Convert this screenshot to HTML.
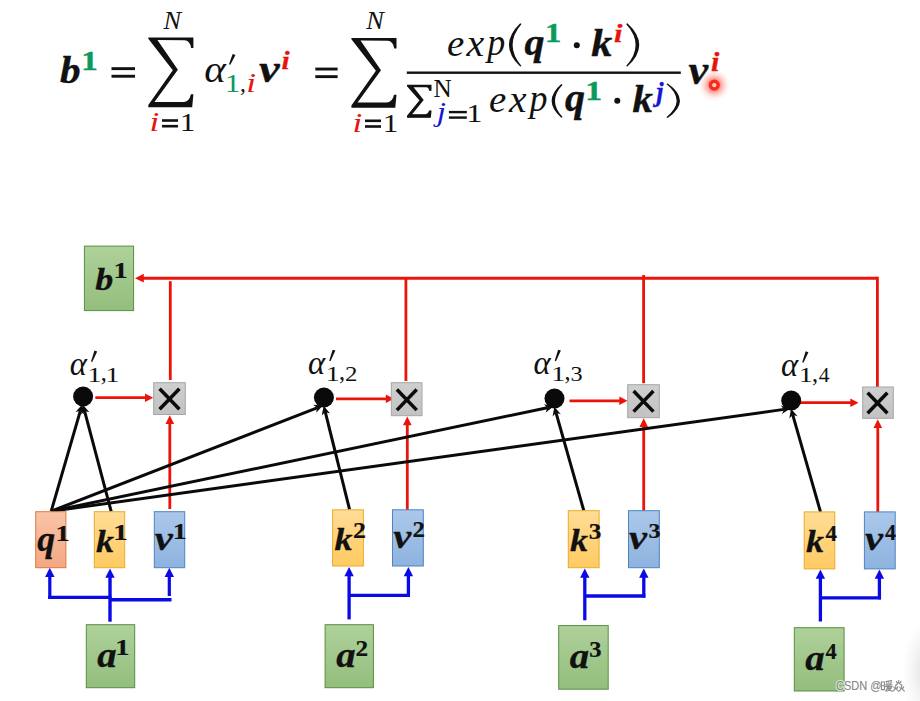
<!DOCTYPE html>
<html><head><meta charset="utf-8"><title>self-attention</title>
<style>
html,body{margin:0;padding:0;background:#fff;}
body{width:920px;height:701px;overflow:hidden;font-family:"Liberation Serif",serif;}
svg{display:block;}
text{font-family:"Liberation Serif",serif;}
.bi{font-weight:bold;font-style:italic;}
.b{font-weight:bold;}
.i{font-style:italic;}
.sans{font-family:"Liberation Sans",sans-serif;}
</style></head><body>
<svg width="920" height="701" viewBox="0 0 920 701" fill="#111">
<defs>
<linearGradient id="gG" x1="0" y1="0" x2="0" y2="1"><stop offset="0" stop-color="#afd19b"/><stop offset="1" stop-color="#93be7d"/></linearGradient>
<linearGradient id="gO" x1="0" y1="0" x2="0" y2="1"><stop offset="0" stop-color="#f9c4a6"/><stop offset="1" stop-color="#f4a783"/></linearGradient>
<linearGradient id="gY" x1="0" y1="0" x2="0" y2="1"><stop offset="0" stop-color="#ffdc96"/><stop offset="1" stop-color="#ffcb62"/></linearGradient>
<linearGradient id="gB" x1="0" y1="0" x2="0" y2="1"><stop offset="0" stop-color="#abc8ea"/><stop offset="1" stop-color="#8db3df"/></linearGradient>
<linearGradient id="gX" x1="0" y1="0" x2="0" y2="1"><stop offset="0" stop-color="#cfcfcf"/><stop offset="1" stop-color="#c2c2c2"/></linearGradient>
<radialGradient id="glow" cx="0.5" cy="0.5" r="0.5"><stop offset="0" stop-color="#ff3020" stop-opacity="0.7"/><stop offset="0.34" stop-color="#ff3a2a" stop-opacity="0.55"/><stop offset="0.6" stop-color="#ff5040" stop-opacity="0.24"/><stop offset="0.82" stop-color="#ff6a5a" stop-opacity="0.07"/><stop offset="1" stop-color="#ff6a5a" stop-opacity="0"/></radialGradient>
<radialGradient id="shade" cx="0.5" cy="0.5" r="0.5"><stop offset="0" stop-color="#d8d8d8" stop-opacity="0.9"/><stop offset="1" stop-color="#e8e8e8" stop-opacity="0"/></radialGradient>
</defs>
<rect width="920" height="701" fill="#ffffff"/>
<ellipse cx="928" cy="672" rx="26" ry="52" fill="url(#shade)"/>
<line x1="877.40" y1="278.20" x2="142.80" y2="278.20" stroke="#ec1409" stroke-width="3.1"/>
<polygon points="135.00,278.20 143.80,273.85 143.80,282.55" fill="#ec1409"/>
<line x1="170.3" y1="281.2" x2="170.3" y2="380" stroke="#ec1409" stroke-width="2.8"/>
<line x1="405.9" y1="277" x2="405.9" y2="381" stroke="#ec1409" stroke-width="2.8"/>
<line x1="643.6" y1="275" x2="643.6" y2="383.2" stroke="#ec1409" stroke-width="2.8"/>
<line x1="877.4" y1="276.7" x2="877.4" y2="387.5" stroke="#ec1409" stroke-width="2.8"/>
<line x1="169.80" y1="509.00" x2="169.80" y2="423.00" stroke="#ec1409" stroke-width="2.8"/>
<polygon points="169.80,415.20 174.10,424.00 165.50,424.00" fill="#ec1409"/>
<line x1="407.30" y1="510.00" x2="407.30" y2="424.30" stroke="#ec1409" stroke-width="2.8"/>
<polygon points="407.30,416.50 411.60,425.30 403.00,425.30" fill="#ec1409"/>
<line x1="643.70" y1="511.00" x2="643.70" y2="426.00" stroke="#ec1409" stroke-width="2.8"/>
<polygon points="643.70,418.20 648.00,427.00 639.40,427.00" fill="#ec1409"/>
<line x1="877.80" y1="512.20" x2="877.80" y2="427.00" stroke="#ec1409" stroke-width="2.8"/>
<polygon points="877.80,419.20 882.10,428.00 873.50,428.00" fill="#ec1409"/>
<line x1="95.30" y1="397.70" x2="146.00" y2="397.70" stroke="#ec1409" stroke-width="2.8"/>
<polygon points="153.20,397.70 145.00,402.00 145.00,393.40" fill="#ec1409"/>
<line x1="336.00" y1="398.80" x2="386.80" y2="398.80" stroke="#ec1409" stroke-width="2.8"/>
<polygon points="394.00,398.80 385.80,403.10 385.80,394.50" fill="#ec1409"/>
<line x1="569.50" y1="400.80" x2="620.30" y2="400.80" stroke="#ec1409" stroke-width="2.8"/>
<polygon points="627.50,400.80 619.30,405.10 619.30,396.50" fill="#ec1409"/>
<line x1="800.00" y1="402.70" x2="851.30" y2="402.70" stroke="#ec1409" stroke-width="2.8"/>
<polygon points="858.50,402.70 850.30,407.00 850.30,398.40" fill="#ec1409"/>
<line x1="51.20" y1="511.20" x2="80.41" y2="410.65" stroke="#0a0a0a" stroke-width="3.0"/>
<polygon points="82.20,404.50 83.82,414.34 80.41,410.65 75.56,411.94" fill="#0a0a0a"/>
<line x1="111.20" y1="511.50" x2="84.54" y2="410.89" stroke="#0a0a0a" stroke-width="3.0"/>
<polygon points="82.90,404.70 89.36,412.30 84.54,410.89 81.05,414.50" fill="#0a0a0a"/>
<line x1="51.20" y1="511.20" x2="317.04" y2="407.82" stroke="#0a0a0a" stroke-width="3.0"/>
<polygon points="323.00,405.50 316.17,412.77 317.04,407.82 313.05,404.75" fill="#0a0a0a"/>
<line x1="349.60" y1="509.60" x2="325.25" y2="411.91" stroke="#0a0a0a" stroke-width="3.0"/>
<polygon points="323.70,405.70 330.05,413.39 325.25,411.91 321.70,415.47" fill="#0a0a0a"/>
<line x1="51.20" y1="511.20" x2="547.33" y2="407.81" stroke="#0a0a0a" stroke-width="3.0"/>
<polygon points="553.60,406.50 545.67,412.55 547.33,407.81 543.91,404.13" fill="#0a0a0a"/>
<line x1="583.80" y1="510.60" x2="556.05" y2="412.86" stroke="#0a0a0a" stroke-width="3.0"/>
<polygon points="554.30,406.70 560.89,414.18 556.05,412.86 552.62,416.53" fill="#0a0a0a"/>
<line x1="51.20" y1="511.20" x2="783.96" y2="409.38" stroke="#0a0a0a" stroke-width="3.0"/>
<polygon points="790.30,408.50 781.98,414.00 783.96,409.38 780.79,405.48" fill="#0a0a0a"/>
<line x1="820.50" y1="511.90" x2="792.76" y2="414.85" stroke="#0a0a0a" stroke-width="3.0"/>
<polygon points="791.00,408.70 797.61,416.17 792.76,414.85 789.34,418.54" fill="#0a0a0a"/>
<circle cx="83.1" cy="396.5" r="10" fill="#0a0a0a"/>
<circle cx="323.9" cy="397.5" r="10" fill="#0a0a0a"/>
<circle cx="554.5" cy="398.5" r="10" fill="#0a0a0a"/>
<circle cx="791.2" cy="400.5" r="10" fill="#0a0a0a"/>
<rect x="153.7" y="382.7" width="31.6" height="31.8" fill="url(#gX)" stroke="#a6a6a6" stroke-width="1"/>
<path d="M159.60,388.70 L179.40,409.30 M179.40,388.70 L159.60,409.30" stroke="#0a0a0a" stroke-width="3.5" stroke-linecap="butt" fill="none"/>
<rect x="391.3" y="382.7" width="30.7" height="33" fill="url(#gX)" stroke="#a6a6a6" stroke-width="1"/>
<path d="M396.90,389.50 L416.70,410.10 M416.70,389.50 L396.90,410.10" stroke="#0a0a0a" stroke-width="3.5" stroke-linecap="butt" fill="none"/>
<rect x="627.7" y="384.7" width="31.6" height="33" fill="url(#gX)" stroke="#a6a6a6" stroke-width="1"/>
<path d="M633.60,391.00 L653.40,411.60 M653.40,391.00 L633.60,411.60" stroke="#0a0a0a" stroke-width="3.5" stroke-linecap="butt" fill="none"/>
<rect x="862.7" y="387" width="30.6" height="31.3" fill="url(#gX)" stroke="#a6a6a6" stroke-width="1"/>
<path d="M867.60,392.70 L887.40,413.30 M887.40,392.70 L867.60,413.30" stroke="#0a0a0a" stroke-width="3.5" stroke-linecap="butt" fill="none"/>
<line x1="110.00" y1="621.70" x2="110.00" y2="576.70" stroke="#0a0ae6" stroke-width="3.4"/>
<polygon points="110.00,568.50 114.70,577.70 105.30,577.70" fill="#0a0ae6"/>
<line x1="49.80" y1="598.90" x2="49.80" y2="576.00" stroke="#0a0ae6" stroke-width="3.2"/>
<polygon points="49.80,567.80 54.50,577.00 45.10,577.00" fill="#0a0ae6"/>
<line x1="48.2" y1="597.4" x2="111.5" y2="597.4" stroke="#0a0ae6" stroke-width="3.4"/>
<line x1="169.30" y1="596.00" x2="169.30" y2="576.00" stroke="#0a0ae6" stroke-width="3.2"/>
<polygon points="169.30,567.80 174.00,577.00 164.60,577.00" fill="#0a0ae6"/>
<line x1="110" y1="599.7" x2="171.5" y2="599.7" stroke="#0a0ae6" stroke-width="3.4"/>
<line x1="349.10" y1="619.40" x2="349.10" y2="575.20" stroke="#0a0ae6" stroke-width="3.3"/>
<polygon points="349.10,567.00 353.80,576.20 344.40,576.20" fill="#0a0ae6"/>
<line x1="408.40" y1="597.00" x2="408.40" y2="575.20" stroke="#0a0ae6" stroke-width="3.3"/>
<polygon points="408.40,567.00 413.10,576.20 403.70,576.20" fill="#0a0ae6"/>
<line x1="349.1" y1="595.4" x2="410.0" y2="595.4" stroke="#0a0ae6" stroke-width="3.3"/>
<line x1="584.80" y1="620.30" x2="584.80" y2="576.70" stroke="#0a0ae6" stroke-width="3.3"/>
<polygon points="584.80,568.50 589.50,577.70 580.10,577.70" fill="#0a0ae6"/>
<line x1="643.80" y1="597.60" x2="643.80" y2="576.70" stroke="#0a0ae6" stroke-width="3.3"/>
<polygon points="643.80,568.50 648.50,577.70 639.10,577.70" fill="#0a0ae6"/>
<line x1="584.8" y1="596" x2="645.4" y2="596" stroke="#0a0ae6" stroke-width="3.3"/>
<line x1="820.40" y1="621.50" x2="820.40" y2="577.70" stroke="#0a0ae6" stroke-width="3.3"/>
<polygon points="820.40,569.50 825.10,578.70 815.70,578.70" fill="#0a0ae6"/>
<line x1="879.40" y1="599.40" x2="879.40" y2="577.70" stroke="#0a0ae6" stroke-width="3.3"/>
<polygon points="879.40,569.50 884.10,578.70 874.70,578.70" fill="#0a0ae6"/>
<line x1="820.4" y1="597.8" x2="881.0" y2="597.8" stroke="#0a0ae6" stroke-width="3.3"/>
<rect x="84.4" y="246.1" width="49.2" height="64.5" fill="url(#gG)" stroke="#578f3f" stroke-width="1"/>
<rect x="35.7" y="511.7" width="30.2" height="56" fill="url(#gO)" stroke="#dc7a40" stroke-width="1"/>
<rect x="94.3" y="511.7" width="30.4" height="56" fill="url(#gY)" stroke="#eaab28" stroke-width="1"/>
<rect x="154.3" y="511.7" width="30.4" height="56" fill="url(#gB)" stroke="#4d84c2" stroke-width="1"/>
<rect x="86.3" y="624.7" width="48.4" height="63" fill="url(#gG)" stroke="#578f3f" stroke-width="1"/>
<rect x="332.6" y="509.8" width="30.8" height="56.2" fill="url(#gY)" stroke="#eaab28" stroke-width="1"/>
<rect x="392.5" y="509.8" width="30.8" height="56.2" fill="url(#gB)" stroke="#4d84c2" stroke-width="1"/>
<rect x="325.1" y="624.7" width="48.3" height="63" fill="url(#gG)" stroke="#578f3f" stroke-width="1"/>
<rect x="568.3" y="510.7" width="30.8" height="57" fill="url(#gY)" stroke="#eaab28" stroke-width="1"/>
<rect x="628.5" y="510.7" width="30.8" height="57" fill="url(#gB)" stroke="#4d84c2" stroke-width="1"/>
<rect x="558.7" y="625.6" width="49.5" height="63.6" fill="url(#gG)" stroke="#578f3f" stroke-width="1"/>
<rect x="804.2" y="511.9" width="30.6" height="57" fill="url(#gY)" stroke="#eaab28" stroke-width="1"/>
<rect x="864.4" y="511.9" width="30.8" height="57" fill="url(#gB)" stroke="#4d84c2" stroke-width="1"/>
<rect x="794.3" y="627.7" width="49.8" height="63.3" fill="url(#gG)" stroke="#578f3f" stroke-width="1"/>
<text class="bi" transform="matrix(1.1067 0 0 1 95.22 289.63)" font-size="32.62" stroke="#111" stroke-width="0.3">b</text>
<text class="b" transform="matrix(1.2387 0 0 1 113.42 278.00)" font-size="23.02" stroke="#111" stroke-width="0.2">1</text>
<text class="bi" transform="matrix(1.0182 0 0 1 37.25 550.53)" font-size="35.08" stroke="#111" stroke-width="0.3">q</text>
<text class="b" transform="matrix(1.2147 0 0 1 55.42 540.50)" font-size="23.48" stroke="#111" stroke-width="0.2">1</text>
<text class="bi" transform="matrix(1.1336 0 0 1 95.91 551.90)" font-size="31.71" stroke="#111" stroke-width="0.3">k</text>
<text class="b" transform="matrix(1.2997 0 0 1 113.25 540.10)" font-size="22.57" stroke="#111" stroke-width="0.2">1</text>
<text class="bi" transform="matrix(1.1907 0 0 1 154.72 549.77)" font-size="34.10" stroke="#111" stroke-width="0.3">v</text>
<text class="b" transform="matrix(1.2564 0 0 1 172.86 539.10)" font-size="22.27" stroke="#111" stroke-width="0.2">1</text>
<text class="bi" transform="matrix(1.0967 0 0 1 97.15 666.84)" font-size="35.35" stroke="#111" stroke-width="0.3">a</text>
<text class="b" transform="matrix(1.2387 0 0 1 115.32 655.40)" font-size="23.02" stroke="#111" stroke-width="0.2">1</text>
<text class="bi" transform="matrix(1.1336 0 0 1 334.41 550.00)" font-size="31.71" stroke="#111" stroke-width="0.3">k</text>
<text class="b" transform="matrix(1.1563 0 0 1 353.01 538.20)" font-size="22.50" stroke="#111" stroke-width="0.2">2</text>
<text class="bi" transform="matrix(1.1907 0 0 1 393.22 547.97)" font-size="34.10" stroke="#111" stroke-width="0.3">v</text>
<text class="b" transform="matrix(1.1178 0 0 1 412.56 537.30)" font-size="22.20" stroke="#111" stroke-width="0.2">2</text>
<text class="bi" transform="matrix(1.0967 0 0 1 336.15 667.04)" font-size="35.35" stroke="#111" stroke-width="0.3">a</text>
<text class="b" transform="matrix(1.1020 0 0 1 355.54 655.60)" font-size="22.96" stroke="#111" stroke-width="0.2">2</text>
<text class="bi" transform="matrix(1.1336 0 0 1 570.11 551.00)" font-size="31.71" stroke="#111" stroke-width="0.3">k</text>
<text class="b" transform="matrix(1.1373 0 0 1 588.85 538.98)" font-size="22.18" stroke="#111" stroke-width="0.2">3</text>
<text class="bi" transform="matrix(1.1907 0 0 1 629.12 548.97)" font-size="34.10" stroke="#111" stroke-width="0.3">v</text>
<text class="b" transform="matrix(1.0994 0 0 1 648.60 538.09)" font-size="21.88" stroke="#111" stroke-width="0.2">3</text>
<text class="bi" transform="matrix(1.0967 0 0 1 569.75 668.24)" font-size="35.35" stroke="#111" stroke-width="0.3">a</text>
<text class="b" transform="matrix(1.0838 0 0 1 589.28 656.58)" font-size="22.62" stroke="#111" stroke-width="0.2">3</text>
<text class="bi" transform="matrix(1.1336 0 0 1 806.01 552.30)" font-size="31.71" stroke="#111" stroke-width="0.3">k</text>
<text class="b" transform="matrix(1.0199 0 0 1 825.38 540.50)" font-size="22.64" stroke="#111" stroke-width="0.2">4</text>
<text class="bi" transform="matrix(1.1907 0 0 1 865.02 550.27)" font-size="34.10" stroke="#111" stroke-width="0.3">v</text>
<text class="b" transform="matrix(0.9859 0 0 1 885.10 539.60)" font-size="22.33" stroke="#111" stroke-width="0.2">4</text>
<text class="bi" transform="matrix(1.0967 0 0 1 805.35 670.34)" font-size="35.35" stroke="#111" stroke-width="0.3">a</text>
<text class="b" transform="matrix(0.9720 0 0 1 825.49 658.90)" font-size="23.09" stroke="#111" stroke-width="0.2">4</text>
<text class="i" transform="matrix(0.9649 0 0 1 69.83 374.95)" font-size="33.82">α</text>
<polygon points="94.47,350.50 97.20,351.40 92.24,362.00 91.00,361.50"/>
<text transform="matrix(1.3500 0 0 1 87.61 381.50)" font-size="20.75">1</text>
<text transform="matrix(1.0014 0 0 1 100.78 380.99)" font-size="24.14">,</text>
<text transform="matrix(1.3500 0 0 1 105.61 381.50)" font-size="20.75">1</text>
<text class="i" transform="matrix(0.9649 0 0 1 308.03 374.15)" font-size="33.82">α</text>
<polygon points="332.67,349.70 335.40,350.60 330.44,361.20 329.20,360.70"/>
<text transform="matrix(1.3500 0 0 1 325.81 380.70)" font-size="20.75">1</text>
<text transform="matrix(1.0014 0 0 1 338.98 380.19)" font-size="24.14">,</text>
<text transform="matrix(1.2056 0 0 1 345.10 380.70)" font-size="20.69">2</text>
<text class="i" transform="matrix(0.9649 0 0 1 533.53 374.15)" font-size="33.82">α</text>
<polygon points="558.17,349.70 560.90,350.60 555.94,361.20 554.70,360.70"/>
<text transform="matrix(1.3500 0 0 1 551.31 380.70)" font-size="20.75">1</text>
<text transform="matrix(1.0014 0 0 1 564.48 380.19)" font-size="24.14">,</text>
<text transform="matrix(1.1872 0 0 1 570.54 380.50)" font-size="20.39">3</text>
<text class="i" transform="matrix(0.9649 0 0 1 781.03 375.75)" font-size="33.82">α</text>
<polygon points="805.67,351.30 808.40,352.20 803.44,362.80 802.20,362.30"/>
<text transform="matrix(1.3500 0 0 1 798.81 382.30)" font-size="20.75">1</text>
<text transform="matrix(1.0014 0 0 1 811.98 381.79)" font-size="24.14">,</text>
<text transform="matrix(1.0336 0 0 1 818.78 382.30)" font-size="20.81">4</text>
<text class="bi" transform="matrix(1.1070 0 0 1 60.06 82.68)" font-size="37.16" stroke="#111" stroke-width="0.4">b</text>
<text class="b" transform="matrix(1.1761 0 0 1 81.15 69.60)" font-size="28.18" fill="#0a9a5c" stroke="#0a9a5c" stroke-width="0.4">1</text>
<rect x="111.5" y="67.2" width="23.5" height="2.9"/><rect x="111.5" y="74.8" width="23.5" height="2.9"/>
<path d="M148.30,37.40 L193.40,37.40 L193.40,48.01 L191.10,48.01 Q190.24,40.54 184.38,40.19 L157.41,39.98 L177.89,69.65 L154.48,102.10 L183.48,102.10 Q189.34,101.62 190.92,94.15 L193.40,94.15 L192.18,107.20 L148.30,107.20 L148.30,104.90 L172.79,70.28 L148.30,38.87 Z" fill="#111"/>
<text class="i" transform="matrix(1.0526 0 0 1 163.49 28.70)" font-size="25.05">N</text>
<text class="i" transform="matrix(1.3000 0 0 1 149.39 131.20)" font-size="27.19" fill="#e8140c">i</text>
<rect x="162" y="119.2" width="16" height="2.6"/><rect x="162" y="124.9" width="16" height="2.6"/>
<text transform="matrix(1.2501 0 0 1 179.75 131.20)" font-size="24.99">1</text>
<text class="i" transform="matrix(1.0867 0 0 1 204.28 82.31)" font-size="37.76">α</text>
<polygon points="232.64,54.00 235.50,54.90 230.30,64.80 229.00,64.30"/>
<text transform="matrix(1.2892 0 0 1 224.75 91.50)" font-size="24.24" fill="#0a9a5c">1</text>
<text transform="matrix(1.0060 0 0 1 240.10 91.41)" font-size="23.36">,</text>
<text class="i" transform="matrix(1.3000 0 0 1 246.14 91.50)" font-size="27.19" fill="#e8140c">i</text>
<text class="bi" transform="matrix(1.2189 0 0 1 259.07 82.43)" font-size="37.93" stroke="#111" stroke-width="0.4">v</text>
<text class="bi" transform="matrix(1.1537 0 0 1 281.45 68.70)" font-size="25.51" fill="#e8140c" stroke="#e8140c" stroke-width="0.3">i</text>
<rect x="315.3" y="67.6" width="22.30000000000001" height="2.9"/><rect x="315.3" y="75.2" width="22.30000000000001" height="2.9"/>
<path d="M351.40,37.90 L396.50,37.90 L396.50,48.51 L394.20,48.51 Q393.34,41.04 387.48,40.69 L360.51,40.48 L380.99,70.15 L357.58,102.60 L386.58,102.60 Q392.44,102.12 394.02,94.65 L396.50,94.65 L395.28,107.70 L351.40,107.70 L351.40,105.40 L375.89,70.78 L351.40,39.37 Z" fill="#111"/>
<text class="i" transform="matrix(1.0526 0 0 1 366.19 28.70)" font-size="25.05">N</text>
<text class="i" transform="matrix(1.3000 0 0 1 352.39 131.50)" font-size="27.19" fill="#e8140c">i</text>
<rect x="365" y="119.5" width="16" height="2.6"/><rect x="365" y="125.2" width="16" height="2.6"/>
<text transform="matrix(1.2501 0 0 1 382.75 131.50)" font-size="24.99">1</text>
<rect x="406.8" y="71.5" width="274" height="2.4" fill="#111"/>
<text class="i" transform="matrix(1.0283 0 0 1 447.00 55.63)" font-size="37.84">e</text>
<text class="i" transform="matrix(1.0286 0 0 1 466.59 55.80)" font-size="38.78">x</text>
<text class="i" transform="matrix(0.9499 0 0 1 487.21 55.34)" font-size="37.86">p</text>
<path d="M520.20,23.20 Q497.70,44.90 520.20,66.60 L521.50,65.90 Q503.70,44.90 521.50,23.90 Z"/>
<text class="bi" transform="matrix(1.0339 0 0 1 524.39 55.15)" font-size="38.74" stroke="#111" stroke-width="0.4">q</text>
<text class="b" transform="matrix(1.2366 0 0 1 545.09 41.60)" font-size="26.36" fill="#0a9a5c" stroke="#0a9a5c" stroke-width="0.4">1</text>
<circle cx="576.8" cy="45.2" r="3"/>
<text class="bi" transform="matrix(1.1167 0 0 1 591.13 56.30)" font-size="37.62" stroke="#111" stroke-width="0.4">k</text>
<text class="bi" transform="matrix(1.2218 0 0 1 613.92 41.60)" font-size="25.08" fill="#e8140c" stroke="#e8140c" stroke-width="0.3">i</text>
<path d="M627.40,23.20 Q651.10,44.90 627.40,66.60 L626.10,65.90 Q645.10,44.90 626.10,23.90 Z"/>
<path d="M407.65,85.35 L430.85,85.35 L430.85,90.18 L429.67,90.18 Q429.23,86.78 426.21,86.62 L412.34,86.53 L422.87,100.04 L410.83,114.83 L425.75,114.83 Q428.76,114.61 429.57,111.20 L430.85,111.20 L430.22,117.15 L407.65,117.15 L407.65,116.10 L420.25,100.33 L407.65,86.02 Z" fill="#111" stroke="#111" stroke-width="1.3" stroke-linejoin="miter"/>
<text transform="matrix(0.9767 0 0 1 433.47 97.20)" font-size="25.81">N</text>
<text class="i" transform="matrix(1.2401 0 0 1 436.73 121.33)" font-size="26.63" fill="#1616d8">j</text>
<rect x="448.9" y="110.9" width="17.900000000000034" height="2.4"/><rect x="448.9" y="116.4" width="17.900000000000034" height="2.4"/>
<text transform="matrix(1.3115 0 0 1 466.15 121.60)" font-size="24.69">1</text>
<text class="i" transform="matrix(1.0340 0 0 1 489.10 111.63)" font-size="37.63">e</text>
<text class="i" transform="matrix(1.0229 0 0 1 508.98 111.80)" font-size="38.56">x</text>
<text class="i" transform="matrix(0.9462 0 0 1 529.41 111.41)" font-size="38.01">p</text>
<path d="M561.30,84.10 Q542.00,100.95 561.30,117.80 L562.60,117.10 Q547.40,100.95 562.60,84.80 Z"/>
<text class="bi" transform="matrix(1.0147 0 0 1 564.89 111.10)" font-size="39.47" stroke="#111" stroke-width="0.4">q</text>
<text class="b" transform="matrix(1.2778 0 0 1 585.30 100.40)" font-size="26.36" fill="#0a9a5c" stroke="#0a9a5c" stroke-width="0.4">1</text>
<circle cx="617.3" cy="100.8" r="3"/>
<text class="bi" transform="matrix(1.0988 0 0 1 632.45 111.90)" font-size="36.90" stroke="#111" stroke-width="0.4">k</text>
<text class="bi" transform="matrix(0.9750 0 0 1 656.33 100.67)" font-size="26.91" fill="#1616d8" stroke="#1616d8" stroke-width="0.3">j</text>
<path d="M667.70,83.40 Q692.20,100.65 667.70,117.90 L666.40,117.20 Q686.80,100.65 666.40,84.10 Z"/>
<text class="bi" transform="matrix(1.1213 0 0 1 688.39 83.81)" font-size="39.43" stroke="#111" stroke-width="0.4">v</text>
<text class="bi" transform="matrix(1.1464 0 0 1 711.03 70.50)" font-size="26.37" fill="#e8140c" stroke="#e8140c" stroke-width="0.3">i</text>
<circle cx="714.3" cy="85.1" r="16.5" fill="url(#glow)"/>
<circle cx="714.3" cy="85.1" r="3.9" fill="#ffd2cc" stroke="#fb2a1c" stroke-width="3.4"/>
<g stroke="#ffffff" stroke-width="2.2" stroke-opacity="0.7" stroke-linejoin="round" fill="#ffffff">
<text class="sans" transform="matrix(0.8490 0 0 1 836.04 690.07)" font-size="12.99" fill="#888888">CSDN</text>
<text class="sans" transform="matrix(0.8673 0 0 1 870.13 690.24)" font-size="12.75" fill="#888888">@</text>
<path d="M881.4,682 h3 v7.6 h-3 z M881.4,685.7 h3 M886,681.6 L891.6,680.6 M886.6,682.6 l0.5,1.3 M888.8,682.4 l0.3,1.3 M891.4,682.1 l-0.7,1.5 M885.8,684.9 H892 M885.5,686.6 H892.2 M888.4,684.9 Q888,688.6 885.6,691 M887.6,688.1 H891.2 Q890,690.2 887,691.3 M888.2,688.6 Q889.6,690.6 892.3,691.3 M898.7,680.2 V682 Q898,684 895.6,685.2 M898.7,682 Q899.5,684 902,685.2 M896.4,681.4 l0.6,1.1 M901.1,681.3 l-0.6,1.2 M895.8,685.8 V687.6 Q895.2,689.8 893.1,691.1 M895.8,687.6 Q896.6,689.8 898.4,691.1 M893.9,687 l0.5,1.1 M897.8,686.8 l-0.5,1.2 M901.7,685.8 V687.6 Q901.1,689.8 899,691.1 M901.7,687.6 Q902.5,689.8 904.4,691.1 M899.8,687 l0.5,1.1 M903.7,686.8 l-0.5,1.2" fill="none" stroke-width="2.6"/>
</g>
<text class="sans" transform="matrix(0.8490 0 0 1 836.04 690.07)" font-size="12.99" fill="#888888">CSDN</text>
<text class="sans" transform="matrix(0.8673 0 0 1 870.13 690.24)" font-size="12.75" fill="#888888">@</text>
<path d="M881.4,682 h3 v7.6 h-3 z M881.4,685.7 h3 M886,681.6 L891.6,680.6 M886.6,682.6 l0.5,1.3 M888.8,682.4 l0.3,1.3 M891.4,682.1 l-0.7,1.5 M885.8,684.9 H892 M885.5,686.6 H892.2 M888.4,684.9 Q888,688.6 885.6,691 M887.6,688.1 H891.2 Q890,690.2 887,691.3 M888.2,688.6 Q889.6,690.6 892.3,691.3 M898.7,680.2 V682 Q898,684 895.6,685.2 M898.7,682 Q899.5,684 902,685.2 M896.4,681.4 l0.6,1.1 M901.1,681.3 l-0.6,1.2 M895.8,685.8 V687.6 Q895.2,689.8 893.1,691.1 M895.8,687.6 Q896.6,689.8 898.4,691.1 M893.9,687 l0.5,1.1 M897.8,686.8 l-0.5,1.2 M901.7,685.8 V687.6 Q901.1,689.8 899,691.1 M901.7,687.6 Q902.5,689.8 904.4,691.1 M899.8,687 l0.5,1.1 M903.7,686.8 l-0.5,1.2" fill="none" stroke="#888888" stroke-width="1.1" stroke-linecap="round"/>
</svg>
</body></html>
